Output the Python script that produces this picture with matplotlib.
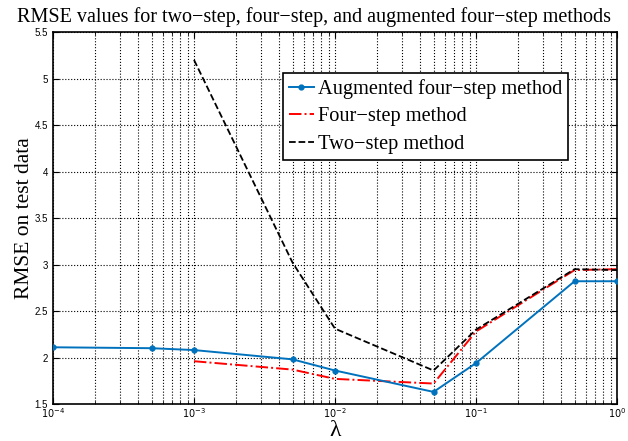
import matplotlib
matplotlib.use("Agg")
import matplotlib.pyplot as plt
from matplotlib.ticker import LogLocator, NullFormatter, FixedLocator

# data
lam_aug = [1e-4, 5e-4, 1e-3, 5e-3, 1e-2, 5e-2, 1e-1, 5e-1, 1e0]
rmse_aug = [2.11, 2.10, 2.08, 1.98, 1.86, 1.63, 1.94, 2.82, 2.82]

lam_four = [1e-3, 5e-3, 1e-2, 5e-2, 1e-1, 5e-1, 1e0]
rmse_four = [1.96, 1.87, 1.77, 1.72, 2.28, 2.94, 2.95]

lam_two = [1e-3, 5e-3, 1e-2, 5e-2, 1e-1, 5e-1, 1e0]
rmse_two = [5.20, 3.02, 2.31, 1.86, 2.30, 2.95, 2.94]

y_ticks = [1.5, 2, 2.5, 3, 3.5, 4, 4.5, 5, 5.5]
y_labels = ["1.5", "2", "2.5", "3", "3.5", "4", "4.5", "5", "5.5"]

serif = "Liberation Serif"
sans = "Liberation Sans"

fig = plt.figure(figsize=(6.28, 4.41), dpi=100)
ax = fig.add_axes([0.0844, 0.0839, 0.8981, 0.8435])

ax.plot(lam_aug, rmse_aug, '-', color="#0072BD", lw=1.4, marker='.', ms=7,
        label="Augmented four\u2212step method", zorder=4)
ax.plot(lam_four, rmse_four, '-.', color="#ff0000", lw=1.4,
        label="Four\u2212step method", zorder=3)
ax.plot(lam_two, rmse_two, '--', color="#000000", lw=1.3,
        label="Two\u2212step method", zorder=3)

ax.set_xscale('log')
ax.set_xlim(1e-4, 1e0)
ax.set_ylim(1.5, 5.5)
ax.yaxis.set_major_locator(FixedLocator(y_ticks))
ax.set_yticklabels(y_labels, fontfamily=sans, fontsize=7)
ax.xaxis.set_major_locator(LogLocator(base=10, numticks=10))
ax.xaxis.set_minor_locator(LogLocator(base=10, subs=range(2, 10), numticks=20))
ax.xaxis.set_minor_formatter(NullFormatter())
for t in ax.get_xticklabels():
    t.set_fontsize(7)

ax.grid(True, which='major', linestyle=':', color='#000000', lw=0.8)
ax.grid(True, which='minor', axis='x', linestyle=':', color='#000000', lw=0.8)
ax.tick_params(which='both', direction='in', top=True, right=True, length=4)
ax.tick_params(which='minor', length=2)
ax.tick_params(axis='x', pad=1.5)
for s in ax.spines.values():
    s.set_linewidth(1.2)

# titel je centriran na sliko, ne na os
fig.text(0.5, 0.962, "RMSE values for two\u2212step, four\u2212step, and augmented four\u2212step methods",
         fontfamily=serif, fontsize=14.5, ha='center', va='center')
ax.set_ylabel("RMSE on test data", fontfamily=serif, fontsize=15.5)
ax.yaxis.set_label_coords(-0.034, 0.5)
ax.set_xlabel("\u03bb", fontfamily=serif, fontsize=17, labelpad=0)

leg = ax.legend(loc='upper left', bbox_to_anchor=(0.408, 0.89), prop={'family': serif, 'size': 14.7},
                fancybox=False, framealpha=1, edgecolor='black', handlelength=1.2,
                handletextpad=0.2, borderpad=0.3, labelspacing=0.4, borderaxespad=0)
leg.get_frame().set_linewidth(1.2)

fig.savefig("out.png", dpi=100)
